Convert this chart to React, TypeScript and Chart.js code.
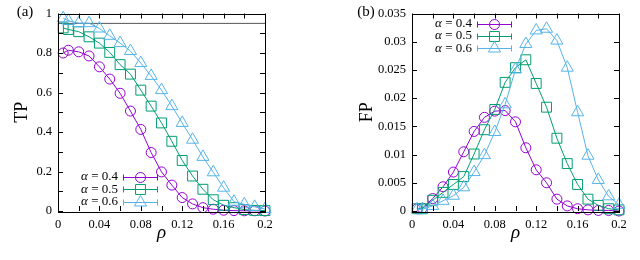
import React, { useEffect, useRef } from "react";
import { Chart, registerables } from "chart.js";

Chart.register(...registerables);

// ---------- data ----------
const RHO = [0.005, 0.01, 0.02, 0.03, 0.04, 0.05, 0.06, 0.07, 0.08, 0.09, 0.1, 0.11, 0.12, 0.13, 0.14, 0.15, 0.16, 0.17, 0.18, 0.19, 0.2];
const ALPHA_LABELS = ["0.4", "0.5", "0.6"];

const TP_A04 = [0.8, 0.814, 0.806, 0.785, 0.73, 0.668, 0.596, 0.506, 0.413, 0.296, 0.198, 0.131, 0.068, 0.036, 0.017, 0.009, 0.004, 0.002, 0.001, 0.001, 0.0];
const TP_A05 = [0.927, 0.919, 0.908, 0.882, 0.85, 0.803, 0.741, 0.693, 0.612, 0.531, 0.446, 0.353, 0.256, 0.177, 0.11, 0.057, 0.029, 0.017, 0.007, 0.003, 0.002];
const TP_A06 = [0.976, 0.963, 0.951, 0.951, 0.924, 0.887, 0.85, 0.81, 0.749, 0.684, 0.612, 0.531, 0.446, 0.361, 0.274, 0.196, 0.118, 0.047, 0.034, 0.021, 0.01];

const FP_A04 = [0.0004, 0.0005, 0.0022, 0.0043, 0.0069, 0.0105, 0.0141, 0.0166, 0.0177, 0.0178, 0.0158, 0.0112, 0.0073, 0.005, 0.0021, 0.0009, 0.0004, 0.0002, 0.0001, 0.0001, 0.0];
const FP_A05 = [0.0004, 0.0004, 0.0019, 0.0033, 0.0047, 0.0061, 0.0101, 0.0144, 0.018, 0.0228, 0.0254, 0.0268, 0.0226, 0.0184, 0.0129, 0.0084, 0.0047, 0.0021, 0.001, 0.0004, 0.0002];
const FP_A06 = [0.0003, 0.0003, 0.0009, 0.0018, 0.0027, 0.0042, 0.0069, 0.0099, 0.014, 0.0189, 0.0251, 0.0296, 0.032, 0.0323, 0.0302, 0.0254, 0.0175, 0.0098, 0.0055, 0.0026, 0.0011];

const REF_X = [0, 0.2];
const REF_TP = [0.95, 0.95];

const X_TICKS = [0, 0.04, 0.08, 0.12, 0.16, 0.2];
const TP_TICKS = [0, 0.2, 0.4, 0.6, 0.8, 1];
const FP_TICKS = [0, 0.005, 0.01, 0.015, 0.02, 0.025, 0.03, 0.035];

// ---------- styles ----------
const COLORS = ["#9400d3", "#009e73", "#56b4e9"];
const POINT_STYLES = ["circle", "rect", "triangle"];
const POINT_RADII = [5, 7, 7];
const SERIF = '"Liberation Serif", serif';

const fmt = (v: number) => String(+Number(v).toFixed(4));

function drawMarker(ctx: CanvasRenderingContext2D, style: string, x: number, y: number, r: number) {
  ctx.beginPath();
  if (style === "circle") {
    ctx.arc(x, y, r, 0, Math.PI * 2);
  } else if (style === "rect") {
    const s = Math.SQRT1_2 * r;
    ctx.rect(x - s, y - s, 2 * s, 2 * s);
  } else {
    let rad = 0;
    ctx.moveTo(x + Math.sin(rad) * r, y - Math.cos(rad) * r);
    rad += (2 * Math.PI) / 3;
    ctx.lineTo(x + Math.sin(rad) * r, y - Math.cos(rad) * r);
    rad += (2 * Math.PI) / 3;
    ctx.lineTo(x + Math.sin(rad) * r, y - Math.cos(rad) * r);
    ctx.closePath();
  }
  ctx.stroke();
}

const framePlugin = {
  id: "frame",
  afterDraw(chart: any, _args: any, opts: any) {
    const ctx: CanvasRenderingContext2D = chart.ctx;
    const { left, right, top, bottom } = chart.chartArea;
    const xs = chart.scales.x;
    const ys = chart.scales.y;
    ctx.save();
    ctx.strokeStyle = "#000";
    ctx.lineWidth = 1;
    const tl = 5;
    ctx.beginPath();
    for (let v = xs.min; v <= xs.max + 1e-9; v += opts.xStep) {
      const px = Math.round(xs.getPixelForValue(v)) + 0.5;
      ctx.moveTo(px, bottom);
      ctx.lineTo(px, bottom - tl);
      ctx.moveTo(px, top);
      ctx.lineTo(px, top + tl);
    }
    for (let v = ys.min; v <= ys.max + 1e-9; v += opts.yStep) {
      const py = Math.round(ys.getPixelForValue(v)) + 0.5;
      ctx.moveTo(left, py);
      ctx.lineTo(left + tl, py);
      ctx.moveTo(right, py);
      ctx.lineTo(right - tl, py);
    }
    ctx.stroke();
    ctx.strokeRect(Math.round(left) + 0.5, Math.round(top) + 0.5, Math.round(right - left), Math.round(bottom - top));

    ctx.fillStyle = "#000";
    ctx.textAlign = "center";
    ctx.textBaseline = "middle";
    ctx.font = `15px ${SERIF}`;
    ctx.fillText(opts.panel, opts.panelX, 12);

    ctx.save();
    ctx.translate(opts.yTitleX, (top + bottom) / 2);
    ctx.rotate(-Math.PI / 2);
    ctx.font = `18px ${SERIF}`;
    ctx.fillText(opts.yTitle, 0, 0);
    ctx.restore();

    ctx.font = `italic 19px ${SERIF}`;
    ctx.textBaseline = "alphabetic";
    ctx.fillText("ρ", (left + right) / 2, 238);

    const rowStart = opts.legendTop ? top + 10 : bottom - 34;
    const rowH = 12.3;
    ALPHA_LABELS.forEach((lab, i) => {
      const y = rowStart + i * rowH;
      const textRight = left + 60;
      ctx.textBaseline = "middle";
      ctx.textAlign = "left";
      ctx.font = `13px ${SERIF}`;
      const rest = ` = ${lab}`;
      const wRest = ctx.measureText(rest).width;
      ctx.font = `italic 13px ${SERIF}`;
      const wA = ctx.measureText("α").width;
      ctx.fillStyle = "#000";
      ctx.fillText("α", textRight - wRest - wA, y);
      ctx.font = `13px ${SERIF}`;
      ctx.fillText(rest, textRight - wRest, y);

      const x1 = left + 65;
      const x2 = left + 100;
      const yy = Math.round(y) + 0.5;
      ctx.strokeStyle = COLORS[i];
      ctx.lineWidth = 1;
      ctx.beginPath();
      ctx.moveTo(x1, yy);
      ctx.lineTo(x2, yy);
      ctx.moveTo(x1 + 0.5, yy - 3);
      ctx.lineTo(x1 + 0.5, yy + 3);
      ctx.moveTo(x2 - 0.5, yy - 3);
      ctx.lineTo(x2 - 0.5, yy + 3);
      ctx.stroke();
      drawMarker(ctx, POINT_STYLES[i], (x1 + x2) / 2, yy, POINT_RADII[i]);
    });
    ctx.restore();
  },
};

function series(values: number[], i: number) {
  return {
    data: RHO.map((x, k) => ({ x, y: values[k] })),
    borderColor: COLORS[i],
    backgroundColor: "rgba(0,0,0,0)",
    borderWidth: 1,
    pointStyle: POINT_STYLES[i],
    pointRadius: POINT_RADII[i],
    pointBorderWidth: 1,
    pointBorderColor: COLORS[i],
    pointBackgroundColor: "rgba(0,0,0,0)",
    tension: 0,
    clip: false,
    order: 3 - i,
  };
}

function makeConfig(opts: any) {
  const datasets: any[] = opts.sets.map((s: number[], i: number) => series(s, i));
  if (opts.refLine) {
    datasets.push({
      data: REF_X.map((x, k) => ({ x, y: REF_TP[k] })),
      borderColor: "#555",
      borderWidth: 1,
      pointRadius: 0,
      order: 10,
    });
  }
  const tickFont = { family: SERIF, size: 12.5 };
  return {
    type: "line",
    data: { datasets },
    options: {
      responsive: false,
      animation: false,
      events: [],
      layout: { padding: { left: 0, top: 5, right: 320 - opts.leftW - 206 - 1, bottom: 0 } },
      plugins: {
        legend: { display: false },
        tooltip: { enabled: false },
        frame: {
          xStep: 0.02,
          yStep: opts.yStep,
          panel: opts.panel,
          panelX: opts.panelX,
          yTitle: opts.yTitle,
          yTitleX: opts.yTitleX,
          legendTop: opts.legendTop,
        },
      },
      scales: {
        x: {
          type: "linear",
          min: 0,
          max: 0.2,
          afterBuildTicks: (s: any) => {
            s.ticks = X_TICKS.map((v) => ({ value: v }));
          },
          afterFit: (s: any) => {
            s.height = 49;
          },
          ticks: { font: tickFont, color: "#000", padding: 6, maxRotation: 0, autoSkip: false, callback: (v: any) => fmt(v) },
          grid: { display: false, drawTicks: false },
          border: { display: false },
        },
        y: {
          type: "linear",
          min: 0,
          max: opts.yMax,
          afterBuildTicks: (s: any) => {
            s.ticks = opts.yTicks.map((v: number) => ({ value: v }));
          },
          afterFit: (s: any) => {
            s.width = opts.leftW;
          },
          ticks: { font: tickFont, color: "#000", padding: 6, autoSkip: false, callback: (v: any) => fmt(v) },
          grid: { display: false, drawTicks: false },
          border: { display: false },
        },
      },
    },
    plugins: [framePlugin],
  } as any;
}

export default function App() {
  const refA = useRef<HTMLCanvasElement>(null);
  const refB = useRef<HTMLCanvasElement>(null);

  useEffect(() => {
    const a = new Chart(
      refA.current!,
      makeConfig({
        sets: [TP_A04, TP_A05, TP_A06],
        yTicks: TP_TICKS,
        yMax: 1,
        yStep: 0.1,
        leftW: 58,
        panel: "(a)",
        panelX: 25,
        yTitle: "TP",
        yTitleX: 22,
        legendTop: false,
        refLine: true,
      })
    );
    const b = new Chart(
      refB.current!,
      makeConfig({
        sets: [FP_A04, FP_A05, FP_A06],
        yTicks: FP_TICKS,
        yMax: 0.035,
        yStep: 0.005,
        leftW: 92,
        panel: "(b)",
        panelX: 46,
        yTitle: "FP",
        yTitleX: 47,
        legendTop: true,
        refLine: false,
      })
    );
    return () => {
      a.destroy();
      b.destroy();
    };
  }, []);

  return (
    <div style={{ position: "fixed", left: 0, top: 0, width: 640, height: 260, background: "#fff" }}>
      <canvas ref={refA} width={320} height={260} style={{ position: "absolute", left: 0, top: 0, width: 320, height: 260 }} />
      <canvas ref={refB} width={320} height={260} style={{ position: "absolute", left: 320, top: 0, width: 320, height: 260 }} />
    </div>
  );
}
